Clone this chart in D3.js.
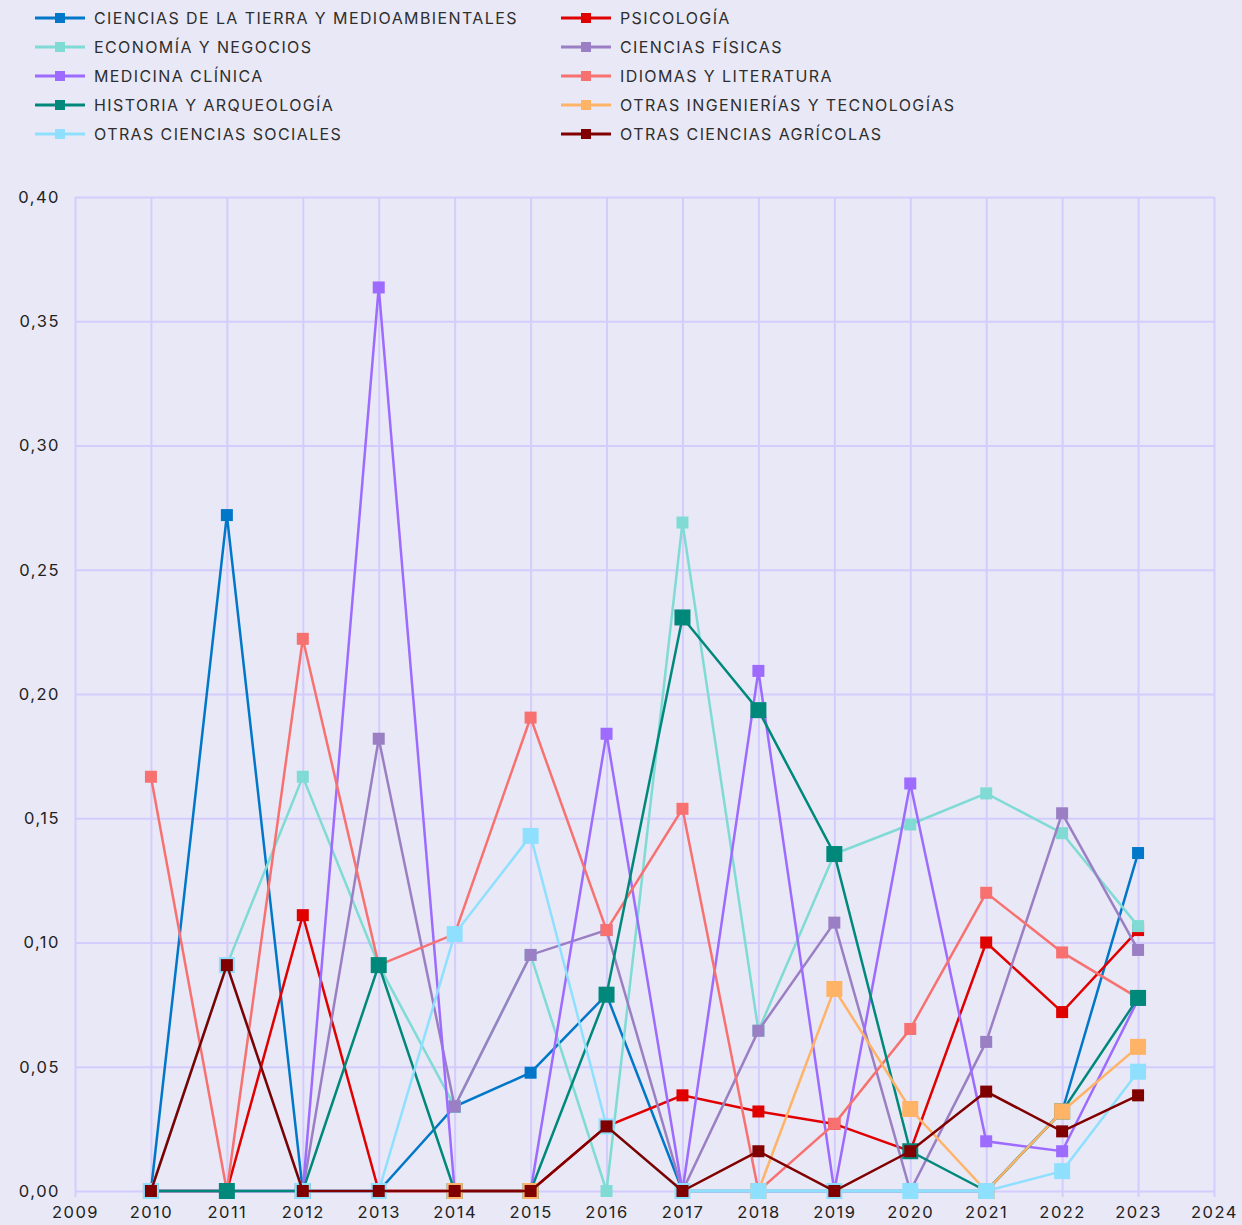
<!DOCTYPE html>
<meta charset="utf-8">
<style>
    body { margin: 0; background: #e9e8f6; }
    svg { display: block; font-family: Inter, "Noto Sans", sans-serif; }
    .grid line { stroke: #d4ccfc; stroke-width: 2px; }
    .tick text { fill: #222; font-size: 16.5px; letter-spacing: 1.5px; }
    .legend text { fill: #2e2e2e; font-size: 16px; letter-spacing: 1.4px; }
    .series path { fill: none; stroke-width: 2.5px; }
</style>
<svg width="1242" height="1225"></svg>
<script src="https://d3js.org/d3.v7.min.js"></script>
<script>

    var years = [2010, 2011, 2012, 2013, 2014, 2015, 2016, 2017, 2018, 2019, 2020, 2021, 2022, 2023];

    var names = [
        "CIENCIAS DE LA TIERRA Y MEDIOAMBIENTALES", "PSICOLOGÍA",
        "ECONOMÍA Y NEGOCIOS", "CIENCIAS FÍSICAS",
        "MEDICINA CLÍNICA", "IDIOMAS Y LITERATURA",
        "HISTORIA Y ARQUEOLOGÍA", "OTRAS INGENIERÍAS Y TECNOLOGÍAS",
        "OTRAS CIENCIAS SOCIALES", "OTRAS CIENCIAS AGRÍCOLAS"
    ];

    var colors = ["#0077c8", "#e00000", "#7fdbd4", "#9b7fc4", "#9e6bff",
        "#f87171", "#00897b", "#ffb366", "#8fe0ff", "#800000"];

    // bigger squares for a few series
    var markerSize = [12, 12, 12, 12, 12, 12, 16, 16, 16, 12];

    var tierra     = [0, 0.272, 0, 0, 0.034, 0.0476, 0.079, 0, 0, 0, 0, 0, 0.032, 0.136];
    var psicologia = [0, 0, 0.111, 0, 0, 0, 0.026, 0.0385, 0.032, 0.027, 0.016, 0.1, 0.072, 0.105];
    var economia   = [0, 0.0909, 0.1667, 0.0909, 0.034, 0.095, 0, 0.269, 0.0645, 0.1356, 0.1475, 0.16, 0.144, 0.1066];
    var fisicas    = [0, 0, 0, 0.182, 0.034, 0.095, 0.105, 0, 0.0645, 0.108, 0, 0.06, 0.152, 0.097];
    var medicina   = [0, 0, 0, 0.3636, 0, 0, 0.184, 0, 0.2093, 0, 0.164, 0.02, 0.016, 0.077];
    var idiomas    = [0.1667, 0, 0.2222, 0.0909, 0.1034, 0.1905, 0.105, 0.1538, 0, 0.027, 0.0652, 0.12, 0.096, 0.0777];
    var historia   = [0, 0, 0, 0.0909, 0, 0, 0.079, 0.2308, 0.1935, 0.1356, 0.016, 0, 0.032, 0.0777];
    var ingenieria = [null, null, null, null, 0, 0, null, null, 0, 0.0813, 0.033, 0, 0.032, 0.058];
    var sociales   = [0, 0.0909, 0, 0, 0.1034, 0.1429, 0.026, 0, 0, 0, 0, 0, 0.008, 0.048];
    var agricolas  = [0, 0.0909, 0, 0, 0, 0, 0.026, 0, 0.016, 0, 0.016, 0.04, 0.024, 0.0385];

    var values = [tierra, psicologia, economia, fisicas, medicina, idiomas, historia, ingenieria, sociales, agricolas];

    var yTicks = [0, 0.05, 0.1, 0.15, 0.2, 0.25, 0.3, 0.35, 0.4];

    var svg = d3.select("svg");

    var x = d3.scaleLinear().domain([2009, 2024]).range([75, 1214]);
    var y = d3.scaleLinear().domain([0, 0.4]).range([1191, 197]);

    var locale = d3.formatLocale({decimal: ",", thousands: ".", grouping: [3], currency: ["", "€"]});
    var fmt = locale.format(".2f");

    // grid
    svg.append("g")
        .attr("class", "grid")
        .attr("transform", "translate(0,1191)")
        .call(d3.axisBottom(x).tickValues(d3.range(2009, 2025)).tickSize(-994).tickSizeOuter(0).tickFormat(""))
        .call(function (g) { g.select(".domain").remove(); });

    svg.append("g")
        .attr("class", "grid")
        .attr("transform", "translate(75,0)")
        .call(d3.axisLeft(y).tickValues(yTicks).tickSize(-1139).tickSizeOuter(0).tickFormat(""))
        .call(function (g) { g.select(".domain").remove(); });

    // small ticks below the baseline
    svg.append("g")
        .attr("class", "grid")
        .attr("transform", "translate(0,1191)")
        .call(d3.axisBottom(x).tickValues(d3.range(2009, 2025)).tickSize(6).tickFormat(""))
        .call(function (g) { g.select(".domain").remove(); });

    // axis labels
    svg.append("g")
        .attr("transform", "translate(0,1191)")
        .call(d3.axisBottom(x).tickValues(d3.range(2009, 2025)).tickSize(0).tickPadding(15).tickFormat(d3.format("d")))
        .call(function (g) {
            g.select(".domain").remove();
            g.selectAll("text").attr("font-family", "Inter, sans-serif");
        });

    svg.append("g")
        .attr("transform", "translate(60,0)")
        .call(d3.axisLeft(y).tickValues(yTicks).tickSize(0).tickPadding(0).tickFormat(fmt))
        .call(function (g) {
            g.select(".domain").remove();
            g.selectAll("text").attr("font-family", "Inter, sans-serif");
        });

    var line = d3.line()
        .defined(function (d) { return d !== null; })
        .x(function (d, i) { return x(years[i]); })
        .y(function (d) { return y(d); });

    var series = svg.append("g")
        .attr("class", "series")
        .selectAll("g")
        .data(values)
        .enter().append("g");

    series.append("path")
        .attr("stroke", function (d, i) { return colors[i]; })
        .attr("d", line);

    series.each(function (vals, i) {
        var s = markerSize[i];
        var pts = vals.map(function (v, j) { return {year: years[j], v: v}; })
            .filter(function (p) { return p.v !== null; });
        d3.select(this).selectAll("rect")
            .data(pts)
            .enter().append("rect")
            .attr("x", function (d) { return x(d.year) - s / 2; })
            .attr("y", function (d) { return y(d.v) - s / 2; })
            .attr("width", s)
            .attr("height", s)
            .attr("fill", colors[i]);
    });

    // legend
    var legend = svg.append("g")
        .attr("class", "legend")
        .selectAll("g")
        .data(names)
        .enter().append("g")
        .attr("transform", function (d, i) {
            return "translate(" + (i % 2 === 0 ? 35 : 561) + "," + (18 + Math.floor(i / 2) * 29) + ")";
        });

    legend.append("line")
        .attr("x1", 0).attr("x2", 50)
        .attr("stroke", function (d, i) { return colors[i]; })
        .attr("stroke-width", 3);

    legend.append("rect")
        .attr("x", 20).attr("y", -5)
        .attr("width", 10).attr("height", 10)
        .attr("fill", function (d, i) { return colors[i]; });

    legend.append("text")
        .attr("x", 59)
        .attr("dy", "0.35em")
        .text(function (d) { return d; });

</script>
